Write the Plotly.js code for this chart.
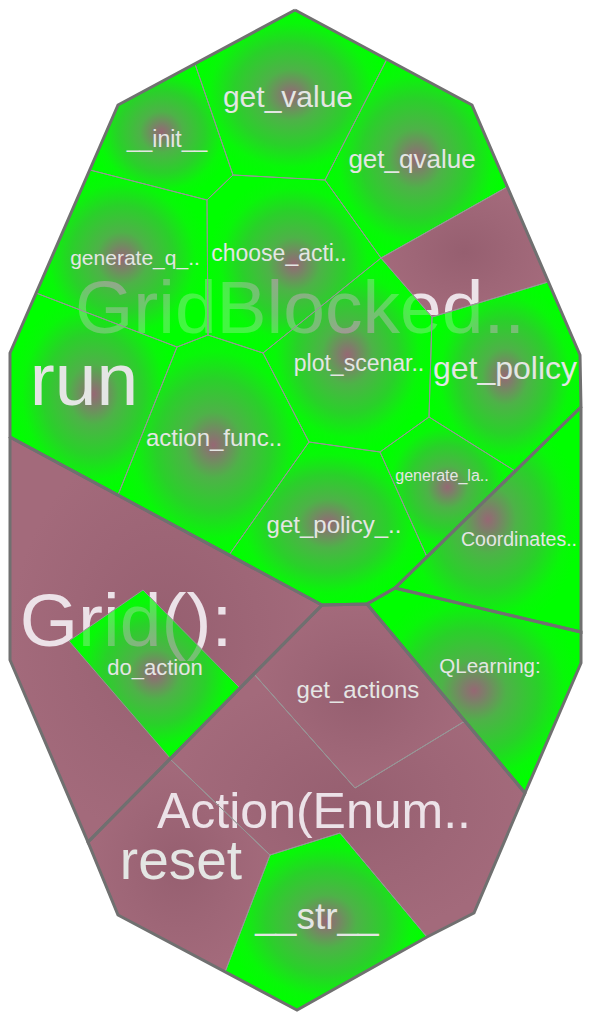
<!DOCTYPE html>
<html>
<head>
<meta charset="utf-8">
<script src="https://cdn.plot.ly/plotly-3.0.1.min.js"></script>
<style>html,body{margin:0;padding:0;background:#fff;}#chart{width:592px;height:1020px;}</style>
</head>
<body>
<div id="chart"></div>
<script>
// ---- DATA: Voronoi treemap cells (polygon vertices) ----
const cellNames = ["__init__","get_value","get_qvalue","(GridBlocked)","get_policy","choose_acti..","generate_q_..","run","action_func..","plot_scenar..","generate_la..","get_policy_..","Coordinates..","QLearning:","(Grid)","do_action","get_actions","(Action)","reset","__str__"];
const cellGroup = ["GridBlocked..","GridBlocked..","GridBlocked..","GridBlocked..","GridBlocked..","GridBlocked..","GridBlocked..","GridBlocked..","GridBlocked..","GridBlocked..","GridBlocked..","GridBlocked..","Coordinates..","QLearning:","Grid():","Grid():","Action(Enum..","Action(Enum..","Action(Enum..","Action(Enum.."];
const cellKind = ["method","method","method","class","method","method","method","method","method","method","method","method","method","method","class","method","class","class","class","method"];
const cellX = [
  [118,195,233,207,90],
  [195,295,387,325,233],
  [387,472,507,381,325],
  [507,548,432,381],
  [432,548,580,581,515,429],
  [207,233,325,381,263,208],
  [90,207,208,177,36],
  [36,177,118,10,10],
  [177,208,263,309,229,118],
  [263,381,432,429,380,309],
  [380,429,515,427],
  [309,380,427,395,367,322,229],
  [395,581,581],
  [367,395,581,581,525],
  [10,322,88,10],
  [143,240,170,69],
  [254,322,367,465,355],
  [170,254,355,465,525,474,427,340,270],
  [88,170,270,225,118],
  [270,340,427,297,225]
];
const cellY = [
  [105,64,175,200,170],
  [64,10,59,180,175],
  [59,105,187,258,180],
  [187,282,317,258],
  [317,282,355,407,471,417],
  [200,175,180,258,353,335],
  [170,200,335,347,293],
  [293,347,495,437,353],
  [347,335,353,442,555,495],
  [353,258,317,417,452,442],
  [452,417,471,557],
  [442,452,557,588,604,605,555],
  [588,407,632],
  [604,588,632,663,793],
  [437,605,842,660],
  [590,688,758,641],
  [674,605,604,721,788],
  [759,674,788,721,793,913,937,833,855],
  [842,759,855,972,915],
  [855,833,937,1010,972]
];
// top-level group outlines
const groupNames = ["GridBlocked..","Coordinates..","QLearning:","Grid():","Action(Enum.."];
const groupX = [
  [295,472,580,581,395,367,322,10,10,118],
  [395,581,581],
  [367,395,581,581,525],
  [10,322,88,10],
  [322,367,525,474,427,297,118,88]
];
const groupY = [
  [10,105,355,407,588,604,605,437,353,105],
  [588,407,632],
  [604,588,632,663,793],
  [437,605,842,660],
  [605,604,793,913,937,1010,915,842]
];
// label anchors (cell seeds)
const labelText = ["__init__","get_value","get_qvalue","","get_policy","choose_acti..","generate_q_..","run","action_func..","plot_scenar..","generate_la..","get_policy_..","Coordinates..","QLearning:","","do_action","get_actions","","reset","__str__"];
const labelX = [167,288,412,0,505,279,135,84,214,359,442,334,519,490,0,155,358,0,181,317];
const labelY = [141,99,161,0,371,255,260,386,440,365,477,527,541,668,0,669,692,0,865,920];
const groupLabelX = [300,126,314];
const groupLabelY = [314,627,815];
const groupLabelText = ["GridBlocked..","Grid():","Action(Enum.."];

// ---- STYLE ----
const labelSize = [23,30,26,0,32,23,21,75,24,23,16,24,19.5,20.5,0,22,24,0,55,37];
const groupLabelSize = [75,75,50];
const FONT = "Liberation Sans, Arial, Helvetica, sans-serif";
const GREEN = "rgb(0,255,0)";
const A = 0.72;
function comp(c){ // colour that, at alpha A over pure green, yields c
  const g=[0,255,0];
  const r=c.map((v,i)=>Math.max(0,Math.min(255,Math.round((v-(1-A)*g[i])/A))));
  return "rgba("+r.join(",")+","+A+")";
}
const greenScale = [
  [0, comp([150,104,116])],
  [0.1, comp([126,126,106])],
  [0.3, comp([78,178,72])],
  [0.6, comp([42,208,42])],
  [0.85, comp([8,248,8])],
  [1, "rgba(0,255,0,"+A+")"]
];
const purpleScale = [[0,"rgb(150,95,112)"],[0.6,"rgb(158,102,119)"],[1,"rgb(163,106,123)"]];

const traces = [];
function closed(a){return a.concat([a[0]]);}
// 1. purple (class) cells
cellNames.forEach((n,i)=>{
  if(cellKind[i]!=="class") return;
  traces.push({type:"scatter",mode:"lines",x:closed(cellX[i]),y:closed(cellY[i]),fill:"toself",
    fillcolor:"rgb(160,104,121)",fillgradient:{type:"radial",colorscale:purpleScale},
    line:{width:0},hoverinfo:"skip"});
});
// 2. base green for method cells
cellNames.forEach((n,i)=>{
  if(cellKind[i]!=="method") return;
  traces.push({type:"scatter",mode:"lines",x:closed(cellX[i]),y:closed(cellY[i]),fill:"toself",
    fillcolor:GREEN,line:{width:0},hoverinfo:"skip"});
});
// 3. group labels (under the method cells)
groupLabelText.forEach((t,i)=>{
  traces.push({type:"scatter",mode:"text",x:[groupLabelX[i]],y:[groupLabelY[i]],text:[t],
    textposition:"middle center",textfont:{family:FONT,size:groupLabelSize[i],color:"rgb(236,226,232)"},hoverinfo:"skip"});
});
// 4. gradient method cells
cellNames.forEach((n,i)=>{
  if(cellKind[i]!=="method") return;
  traces.push({type:"scatter",mode:"lines",x:closed(cellX[i]),y:closed(cellY[i]),fill:"toself",
    fillcolor:"rgba(0,255,0,"+A+")",fillgradient:{type:"radial",colorscale:greenScale},
    line:{width:0},hoverinfo:"skip"});
});
// 5. thin cell borders
cellNames.forEach((n,i)=>{
  traces.push({type:"scatter",mode:"lines",x:closed(cellX[i]),y:closed(cellY[i]),
    line:{color:"rgb(150,150,150)",width:1},hoverinfo:"skip"});
});
// 6. thick group borders
groupNames.forEach((n,i)=>{
  traces.push({type:"scatter",mode:"lines",x:closed(groupX[i]),y:closed(groupY[i]),
    line:{color:"rgb(112,112,112)",width:3},hoverinfo:"skip"});
});
// 7. leaf labels
labelText.forEach((t,i)=>{
  if(!t) return;
  traces.push({type:"scatter",mode:"text",x:[labelX[i]],y:[labelY[i]],text:[t],
    textposition:"middle center",textfont:{family:FONT,size:labelSize[i],color:"rgb(228,230,228)"},hoverinfo:"skip"});
});

const layout = {
  width:592,height:1020,margin:{l:0,r:0,t:0,b:0},
  paper_bgcolor:"#ffffff",plot_bgcolor:"#ffffff",showlegend:false,
  xaxis:{range:[0,592],visible:false,fixedrange:true},
  yaxis:{range:[1020,0],visible:false,fixedrange:true}
};
Plotly.newPlot("chart",traces,layout,{staticPlot:true,displayModeBar:false});
</script>
</body>
</html>
